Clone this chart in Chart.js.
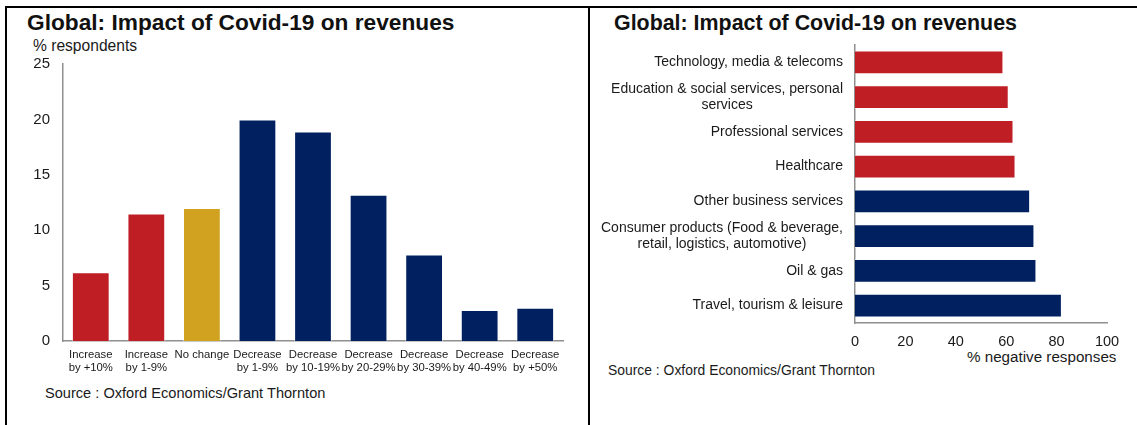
<!DOCTYPE html>
<html>
<head>
<meta charset="utf-8">
<script src="https://cdn.jsdelivr.net/npm/chart.js@4.4.1/dist/chart.umd.min.js"></script>
<style>
	html, body { margin: 0; padding: 0; background: #fff; }
	body { width: 1137px; height: 425px; position: relative; overflow: hidden; font-family: "Liberation Sans", Arial, sans-serif; color: #1a1a1a; }
	.line { position: absolute; background: #000; }
	.txt { position: absolute; white-space: nowrap; line-height: 1; }
	.title { font-weight: bold; color: #111; }
	.box { position: absolute; }
</style>
</head>
<body>
<div class="line" style="left:5px;top:6px;width:1132px;height:2px"></div>
<div class="line" style="left:5px;top:6px;width:2px;height:419px"></div>
<div class="line" style="left:588px;top:6px;width:2px;height:419px"></div>

<div class="txt title" style="left:27px;top:11px;font-size:22.7px">Global: Impact of Covid-19 on revenues</div>
<div class="txt" style="left:33px;top:38px;font-size:15.6px">% respondents</div>
<div class="txt" style="left:45px;top:386px;font-size:14.6px">Source : Oxford Economics/Grant Thornton</div>

<div class="txt title" style="left:614px;top:13px;font-size:21.4px">Global: Impact of Covid-19 on revenues</div>
<div class="txt" style="left:967px;top:349px;font-size:15.2px">% negative responses</div>
<div class="txt" style="left:608px;top:364px;font-size:13.9px">Source : Oxford Economics/Grant Thornton</div>

<div class="box" style="left:10px;top:46px;width:570px;height:339px"><canvas id="left"></canvas></div>
<div class="box" style="left:596px;top:40px;width:535px;height:320px"><canvas id="right"></canvas></div>

<script>
// left chart: distribution of revenue impact
const changeLabels = [
	['Increase', 'by +10%'], ['Increase', 'by 1-9%'], ['No change', ''],
	['Decrease', 'by 1-9%'], ['Decrease', 'by 10-19%'], ['Decrease', 'by 20-29%'],
	['Decrease', 'by 30-39%'], ['Decrease', 'by 40-49%'], ['Decrease', 'by +50%']
];
const changeShares = [6.2, 11.5, 12.0, 20.0, 18.9, 13.2, 7.8, 2.8, 3.0];
const yTicks = [0, 5, 10, 15, 20, 25];

// right chart: negative responses by sector
const sectors = [
	['Technology, media & telecoms'],
	['Education & social services, personal', 'services'],
	['Professional services'],
	['Healthcare'],
	['Other business services'],
	['Consumer products (Food & beverage,', 'retail, logistics, automotive)'],
	['Oil & gas'],
	['Travel, tourism & leisure']
];
const negativeShares = [58.9, 61.0, 62.9, 63.7, 69.5, 71.2, 72.0, 82.1];
const xTicks = [0, 20, 40, 60, 80, 100];

const RED = '#be1e24';
const GOLD = '#d0a21f';
const NAVY = '#012060';
const leftColors = [RED, RED, GOLD, NAVY, NAVY, NAVY, NAVY, NAVY, NAVY];
const rightColors = [RED, RED, RED, RED, NAVY, NAVY, NAVY, NAVY];
const AXIS = '#8f8f8f';
const FONT = '"Liberation Sans", Arial, sans-serif';

Chart.defaults.font.family = FONT;
Chart.defaults.color = '#1a1a1a';
Chart.defaults.animation = false;

new Chart(document.getElementById('left'), {
	type: 'bar',
	data: {
		labels: changeLabels,
		datasets: [{
			data: changeShares,
			backgroundColor: leftColors,
			borderColor: 'rgba(255,255,255,0.55)',
			borderWidth: 1,
			categoryPercentage: 1,
			barPercentage: 0.68
		}]
	},
	options: {
		responsive: true,
		maintainAspectRatio: false,
		layout: { padding: { top: 0, right: 17, left: 0, bottom: 0 } },
		plugins: { legend: { display: false }, tooltip: { enabled: false } },
		scales: {
			x: {
				grid: { display: false, drawTicks: false },
				border: { color: AXIS, width: 1.5 },
				ticks: { font: { size: 11.3 }, padding: 7, maxRotation: 0, autoSkip: false },
				afterFit: s => { s.height = 44; }
			},
			y: {
				min: 0, max: 25,
				afterBuildTicks: s => { s.ticks = yTicks.map(v => ({ value: v })); },
				grid: { display: false, drawOnChartArea: false, drawTicks: true, tickLength: 4, color: AXIS },
				border: { color: AXIS, width: 1.5 },
				ticks: { font: { size: 15 }, padding: 9 },
				afterFit: s => { s.width = 53; }
			}
		}
	}
});

// draws the sector labels as centred multi-line blocks, right-aligned to the axis
const sectorLabelPlugin = {
	id: 'sectorLabels',
	afterDraw(chart) {
		const ctx = chart.ctx;
		const y = chart.scales.y;
		const right = chart.chartArea.left - 12;
		ctx.save();
		ctx.font = '14px ' + FONT;
		ctx.fillStyle = '#1a1a1a';
		ctx.textAlign = 'center';
		ctx.textBaseline = 'middle';
		sectors.forEach((lines, i) => {
			const w = Math.max(...lines.map(l => ctx.measureText(l).width));
			const cx = right - w / 2;
			const cy = y.getPixelForValue(i);
			const lh = 16;
			lines.forEach((l, j) => {
				ctx.fillText(l, cx, cy + (j - (lines.length - 1) / 2) * lh);
			});
		});
		ctx.restore();
	}
};

new Chart(document.getElementById('right'), {
	type: 'bar',
	data: {
		labels: sectors.map(s => s.join(' ')),
		datasets: [{
			data: negativeShares,
			backgroundColor: rightColors,
			borderColor: 'rgba(255,255,255,0.55)',
			borderWidth: 1,
			categoryPercentage: 1,
			barPercentage: 0.69
		}]
	},
	options: {
		indexAxis: 'y',
		responsive: true,
		maintainAspectRatio: false,
		layout: { padding: { top: 5, right: 24, left: 0, bottom: 0 } },
		plugins: { legend: { display: false }, tooltip: { enabled: false } },
		scales: {
			x: {
				min: 0, max: 100,
				afterBuildTicks: s => { s.ticks = xTicks.map(v => ({ value: v })); },
				grid: { display: false, drawOnChartArea: false, drawTicks: true, tickLength: 5, color: AXIS },
				border: { color: AXIS, width: 1.5 },
				ticks: { font: { size: 14.5 }, padding: 5 },
				afterFit: s => { s.height = 37; }
			},
			y: {
				grid: { display: false, drawTicks: false },
				border: { color: AXIS, width: 1.5 },
				ticks: { display: false },
				afterFit: s => { s.width = 259; }
			}
		}
	},
	plugins: [sectorLabelPlugin]
});
</script>
</body>
</html>
